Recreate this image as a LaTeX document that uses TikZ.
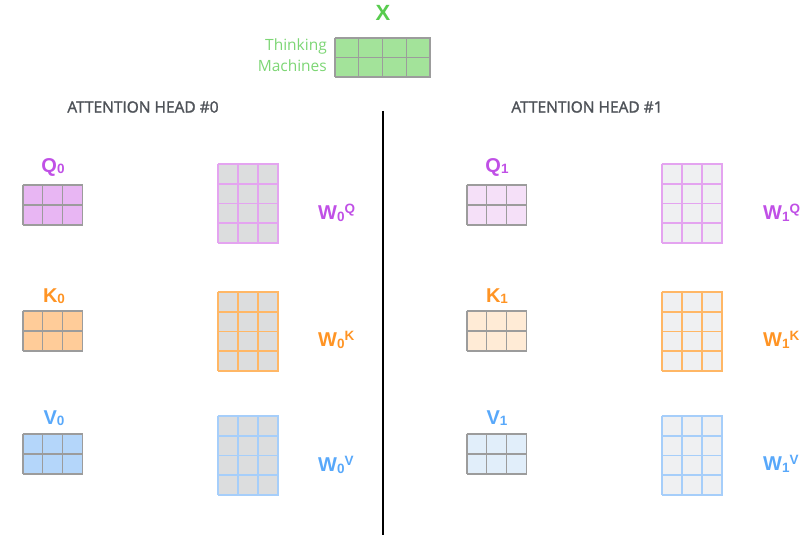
\documentclass[tikz,border=0pt]{standalone}
\usepackage{fontspec}
\setmainfont{Liberation Sans}
\newfontfamily\headfont{Open Sans}
\newfontfamily\headfontb{Open Sans}[FakeBold=1.6]
\definecolor{qlab}{HTML}{C050E6}
\definecolor{qfill}{HTML}{E8B6F3}
\definecolor{qfillL}{HTML}{F5E0F8}
\definecolor{qedge}{HTML}{E4A4F0}
\definecolor{klab}{HTML}{FF9424}
\definecolor{kfill}{HTML}{FFCC99}
\definecolor{kfillL}{HTML}{FFEBD6}
\definecolor{kedge}{HTML}{FFB766}
\definecolor{vlab}{HTML}{58A8FA}
\definecolor{vfill}{HTML}{B4D6FA}
\definecolor{vfillL}{HTML}{E1EEFA}
\definecolor{vedge}{HTML}{A6CEFA}
\definecolor{xlab}{HTML}{58CC4E}
\definecolor{xfill}{HTML}{A3E39A}
\definecolor{xtext}{HTML}{7DD675}
\definecolor{wfill}{HTML}{DCDDDE}
\definecolor{wfillL}{HTML}{EFF0F2}
\definecolor{smalledge}{HTML}{9C9C9C}
\definecolor{headgray}{HTML}{4E5258}
\newcommand{\gridmat}[8]{%
  \fill[#7] (#1,#2) rectangle ++(#3*#5,#4*#6);
  \foreach \i in {0,...,#3} \draw[#8] (#1+\i*#5,#2) -- ++(0,#4*#6);
  \foreach \j in {0,...,#4} \draw[#8] (#1-0.5,#2+\j*#6) -- ++(#3*#5+1,0);
}
\newcommand{\lsub}[1]{{\fontsize{13.5}{13.5}\selectfont\raisebox{-1.5pt}{#1}}}
\newcommand{\lsup}[1]{{\fontsize{13.5}{13.5}\selectfont\raisebox{6pt}{#1}}}
\tikzset{
  lab/.style={inner sep=0pt, font=\fontsize{20}{20}\selectfont\bfseries},
  head/.style={inner sep=0pt, text=headgray, font=\headfontb\fontsize{15.5}{15.5}\selectfont},
  xname/.style={inner sep=0pt, anchor=east, text=xtext, font=\headfont\fontsize{15.5}{15.5}\selectfont},
  smalledge/.style={draw=smalledge, line width=1.1pt},
  wedge/.style={line width=1.8pt},
}
\begin{document}
\begin{tikzpicture}[x=1pt,y=-1pt]
\useasboundingbox (0,0) rectangle (811,540);
% X
\node[lab, text=xlab, font=\fontsize{22}{22}\selectfont\bfseries] (xlabel) at (383,13) {X};
\gridmat{335}{38}{4}{2}{23.75}{19.5}{xfill}{smalledge}
\node[xname] (thinking) at (327,46) {Thinking};
\node[xname] (machines) at (327,66) {Machines};
% divider
\coordinate (dtop) at (383,111);
\coordinate (dbot) at (383,535);
\draw[line width=1.5pt] (dtop) -- (dbot);
% headers
\node[head] (h0) at (143,107) {ATTENTION HEAD \#0};
\node[head] (h1) at (587,107) {ATTENTION HEAD \#1};
% ---- head 0
\node[lab, text=qlab] (q0) at (53,167) {Q\lsub{0}};
\gridmat{23}{185}{3}{2}{19.7}{20}{qfill}{smalledge}
\gridmat{218}{164}{3}{4}{20}{19.75}{wfill}{wedge, draw=qedge}
\node[lab, text=qlab, anchor=west] (w0q) at (318,213) {W\lsub{0}\lsup{Q}};
\node[lab, text=klab] (k0) at (54,296) {K\lsub{0}};
\gridmat{23}{311}{3}{2}{19.7}{20}{kfill}{smalledge}
\gridmat{218}{292}{3}{4}{20}{19.75}{wfill}{wedge, draw=kedge}
\node[lab, text=klab, anchor=west] (w0k) at (318,340) {W\lsub{0}\lsup{K}};
\node[lab, text=vlab] (v0) at (54,418) {V\lsub{0}};
\gridmat{23}{434}{3}{2}{19.7}{20}{vfill}{smalledge}
\gridmat{218}{416}{3}{4}{20}{19.75}{wfill}{wedge, draw=vedge}
\node[lab, text=vlab, anchor=west] (w0v) at (318,465) {W\lsub{0}\lsup{V}};
% ---- head 1
\node[lab, text=qlab] (q1) at (497,167) {Q\lsub{1}};
\gridmat{467}{185}{3}{2}{19.7}{20}{qfillL}{smalledge}
\gridmat{662}{164}{3}{4}{20}{19.75}{wfillL}{wedge, draw=qedge}
\node[lab, text=qlab, anchor=west] (w1q) at (763,213) {W\lsub{1}\lsup{Q}};
\node[lab, text=klab] (k1) at (497,296) {K\lsub{1}};
\gridmat{467}{311}{3}{2}{19.7}{20}{kfillL}{smalledge}
\gridmat{662}{292}{3}{4}{20}{19.75}{wfillL}{wedge, draw=kedge}
\node[lab, text=klab, anchor=west] (w1k) at (763,340) {W\lsub{1}\lsup{K}};
\node[lab, text=vlab] (v1) at (497,418) {V\lsub{1}};
\gridmat{467}{434}{3}{2}{19.7}{20}{vfillL}{smalledge}
\gridmat{662}{416}{3}{4}{20}{19.75}{wfillL}{wedge, draw=vedge}
\node[lab, text=vlab, anchor=west] (w1v) at (763,464) {W\lsub{1}\lsup{V}};
\end{tikzpicture}
\end{document}
